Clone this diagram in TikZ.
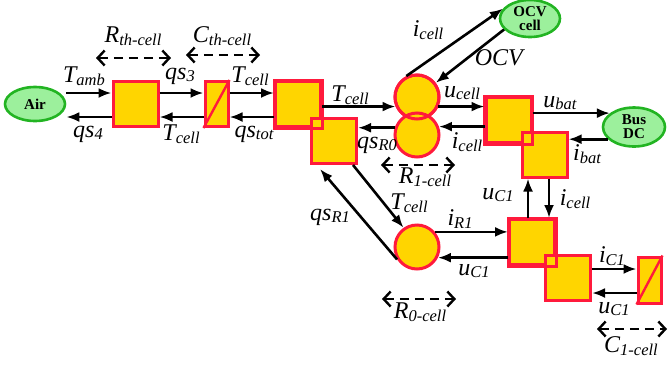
\documentclass[tikz,border=0pt]{standalone}
\usepackage{fontspec}
\setmainfont{Liberation Serif}
\usetikzlibrary{arrows.meta,shapes.geometric,calc}
\definecolor{emrgold}{HTML}{FFD500}
\definecolor{emrred}{HTML}{FF1A3C}
\definecolor{emrgreen}{HTML}{22B422}
\definecolor{emrlight}{HTML}{9CF09C}
\newcommand\lb[2]{\textit{\fontsize{24}{24}\selectfont #1\raisebox{-0.25ex}{\fontsize{16.5}{16.5}\selectfont #2}}}
\tikzset{
  blk/.style={rectangle,draw=emrred,fill=emrgold,line width=3pt,minimum width=45pt,minimum height=45pt,inner sep=0pt},
  capb/.style={rectangle,draw=emrred,fill=emrgold,line width=3pt,minimum width=23pt,minimum height=45pt,inner sep=0pt},
  crc/.style={circle,draw=emrred,fill=emrgold,line width=3pt,minimum size=44pt,inner sep=0pt},
  src/.style={ellipse,draw=emrgreen,fill=emrlight,line width=2.6pt,inner sep=0pt,font=\bfseries\fontsize{15}{15}\selectfont,align=center},
  arr/.style={-{Latex[length=13pt,width=10pt]},line width=2.6pt},
  dar/.style={{Straight Barb[length=7pt,width=15pt,line width=2.4pt]}-{Straight Barb[length=7pt,width=15pt,line width=2.4pt]},line width=2.5pt,dash pattern=on 9pt off 6pt},
  lab/.style={inner sep=0pt}
}
\begin{document}
\begin{tikzpicture}[x=1pt,y=-1pt]
\useasboundingbox (0,0) rectangle (669,365);
% sources
\node[src,minimum width=60pt,minimum height=34pt] (air) at (35,104) {Air};
\node[src,minimum width=60pt,minimum height=37pt] (ocv) at (530,18.5) {OCV\\[-1pt]cell};
\node[src,minimum width=62pt,minimum height=39pt] (bus) at (634,127) {Bus\\[-1pt]DC};
% thermal chain
\node[blk] (b1) at (135.5,104) {};
\node[capb] (cap1) at (216.5,104) {};
\draw[emrred,line width=2.4pt] (cap1.south west) -- (cap1.north east);
\node[blk] (b2) at (298,104) {};
\node[blk] (b2b) at (334,141) {};
\draw[emrred,line width=3pt] (b2.north west) rectangle (b2.south east);
% circles
\node[crc] (c1) at (417,97) {};
\node[crc] (c2) at (417,135) {};
\draw[emrred,line width=3pt] (c1) circle (22pt);
\node[crc] (c3) at (417,247) {};
% electrical
\node[blk] (b3) at (508.5,120) {};
\node[blk] (b3b) at (544.5,154.5) {};
\draw[emrred,line width=3pt] (b3.north west) rectangle (b3.south east);
\node[blk] (b4) at (532,242) {};
\node[blk] (b4b) at (568,278) {};
\draw[emrred,line width=3pt] (b4.north west) rectangle (b4.south east);
\node[capb,minimum height=46pt] (cap2) at (649.5,280) {};
\draw[emrred,line width=2.4pt] (cap2.south west) -- (cap2.north east);
% arrows thermal
\draw[arr] ($(air.east)+(0,-11)$) -- ($(b1.west)+(0,-11)$);
\draw[arr] ($(b1.west)+(0,13)$) -- ($(air.east)+(0,13)$);
\draw[arr] ($(b1.east)+(0,-11)$) -- ($(cap1.west)+(0,-11)$);
\draw[arr] ($(cap1.west)+(0,13)$) -- ($(b1.east)+(0,13)$);
\draw[arr] ($(cap1.east)+(0,-11)$) -- ($(b2.west)+(0,-11)$);
\draw[arr] ($(b2.west)+(0,13)$) -- ($(cap1.east)+(0,13)$);
\draw[arr] (b2.east |- c1.204) -- (c1.204);
\draw[arr] (c2.162) -- (b2b.east |- c2.162);
% OCV
\draw[arr] (c1.117) -- (ocv.160);
\draw[arr] (ocv.203) -- (c1.37);
% to battery
\draw[arr] (c1.-24) -- (b3.west |- c1.-24);
\draw[arr] (b3.west |- c2.21) -- (c2.21);
\draw[arr] (b3.east |- bus.150) -- (bus.150);
\draw[arr] (bus.205) -- (b3b.east |- bus.205);
% vertical
\coordinate (v1) at ($(b4.north)+(-4,0)$);
\coordinate (v2) at ($(b3b.south)+(4.5,0)$);
\draw[arr] (v1) -- (v1 |- b3b.south);
\draw[arr] (v2) -- (v2 |- b4.north);
% diagonals
\coordinate (d1) at ($(b2b.south)+(19,0)$);
\coordinate (d2) at ($(b2b.south)+(-14,4)$);
\draw[arr] (d1) -- (c3.125);
\draw[arr] (c3.212) -- (d2);
% bottom
\draw[arr] (c3.40) -- (b4.west |- c3.40);
\draw[arr] (b4.west |- c3.-27) -- (c3.-27);
\draw[arr] ($(b4b.east)+(0,-9)$) -- ($(cap2.west)+(0,-11)$);
\draw[arr] ($(cap2.west)+(0,13)$) -- ($(b4b.east)+(0,15)$);
% dashed double arrows
\coordinate (r1a) at (96,58); \coordinate (r1b) at (171,58);
\draw[dar] (r1a) -- (r1b);
\coordinate (r2a) at (186,55); \coordinate (r2b) at (260,55);
\draw[dar] (r2a) -- (r2b);
\coordinate (r3a) at (381,165); \coordinate (r3b) at (455,165);
\draw[dar] (r3a) -- (r3b);
\coordinate (r4a) at (382,299); \coordinate (r4b) at (456,299);
\draw[dar] (r4a) -- (r4b);
\coordinate (r5a) at (597,329); \coordinate (r5b) at (667,329);
\draw[dar] (r5a) -- (r5b);
% labels
\node[lab] (tRth) at (133,36) {\lb{R}{th-cell}};
\node[lab] (tCth) at (222,36) {\lb{C}{th-cell}};
\node[lab] (tTamb) at (84,76) {\lb{T}{amb}};
\node[lab] (tqs4) at (88,134) {\lb{qs}{4}};
\node[lab] (tqs3) at (180,76) {\lb{qs}{3}};
\node[lab] (tTc1) at (181,134) {\lb{T}{cell}};
\node[lab] (tTc2) at (250,76) {\lb{T}{cell}};
\node[lab] (tqst) at (254,134) {\lb{qs}{tot}};
\node[lab] (tTc3) at (350,95) {\lb{T}{cell}};
\node[lab] (tqsR0) at (377,145) {\lb{qs}{R0}};
\node[lab] (tic1) at (428,30) {\lb{i}{cell}};
\node[lab] (tocv) at (500,58) {\textit{\fontsize{24}{24}\selectfont OCV}};
\node[lab] (tuc) at (462,93) {\lb{u}{cell}};
\node[lab] (tic2) at (467,142) {\lb{i}{cell}};
\node[lab] (tub) at (560,103) {\lb{u}{bat}};
\node[lab] (tib) at (587,154) {\lb{i}{bat}};
\node[lab] (tR1) at (425,177) {\lb{R}{1-cell}};
\node[lab] (tuC1a) at (498,195) {\lb{u}{C1}};
\node[lab] (tic3) at (575,199) {\lb{i}{cell}};
\node[lab] (tTc4) at (409,203) {\lb{T}{cell}};
\node[lab] (tqsR1) at (330,217) {\lb{qs}{R1}};
\node[lab] (tiR1) at (460,219) {\lb{i}{R1}};
\node[lab] (tuC1b) at (474,271) {\lb{u}{C1}};
\node[lab] (tR0) at (420,312) {\lb{R}{0-cell}};
\node[lab] (tiC1) at (612,256) {\lb{i}{C1}};
\node[lab] (tuC1c) at (614,309) {\lb{u}{C1}};
\node[lab] (tC1) at (631,346) {\lb{C}{1-cell}};
\end{tikzpicture}
\end{document}
